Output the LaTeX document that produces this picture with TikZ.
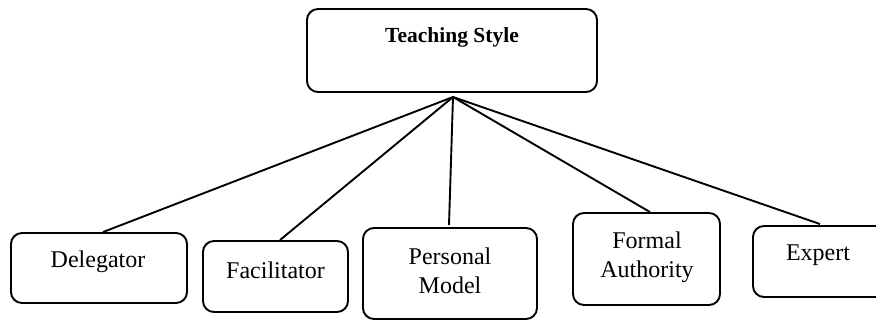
\documentclass[tikz,border=0pt]{standalone}
\usepackage{fontspec}
\setmainfont{Liberation Serif}
\usetikzlibrary{calc}
\begin{document}
\begin{tikzpicture}[x=1pt,y=-1pt,
  box/.style={draw,line width=1.9pt,rounded corners=11pt,inner sep=0pt},
  lbl/.style={font=\fontsize{24}{29.5}\selectfont,align=center,inner sep=0pt},
  conn/.style={line width=1.9pt}]
\useasboundingbox (0,0) rectangle (876,321);
\clip (0,0) rectangle (876,321);
% boxes
\node[box,minimum width=290pt,minimum height=83pt] (top) at (452,50.5) {};
\node[font=\fontsize{21.5}{25}\selectfont\bfseries,inner sep=0pt] (toplbl) at (452,37) {Teaching Style};
\node[box,minimum width=176pt,minimum height=70pt] (deleg) at (99,268) {};
\node[lbl] (delegl) at (98,262) {Delegator};
\node[box,minimum width=145pt,minimum height=71pt] (facil) at (275.5,276.5) {};
\node[lbl] (facill) at (275.5,270) {Facilitator};
\node[box,minimum width=174pt,minimum height=91pt] (pers) at (450,273.5) {};
\node[lbl] (persl) at (450,271) {Personal\\Model};
\node[box,minimum width=147pt,minimum height=92pt] (formal) at (646.5,259) {};
\node[lbl] (formall) at (647,257.5) {Formal\\Authority};
\node[box,minimum width=134pt,minimum height=71pt] (expert) at (820,261.5) {};
\node[lbl] (expertl) at (818,255) {Expert};
% connectors
\coordinate (hub) at (453,97);
\coordinate (pend) at (449,225);
\draw[conn] (hub) -- ($(deleg.north)+(4,0)$);
\draw[conn] (hub) -- ($(facil.north)+(4.5,0)$);
\draw[conn] (hub) -- (pend);
\draw[conn] (hub) -- ($(formal.north)+(3.5,0)$);
\draw[conn] (hub) -- ($(expert.north)+(0,-1)$);
\end{tikzpicture}
\end{document}
